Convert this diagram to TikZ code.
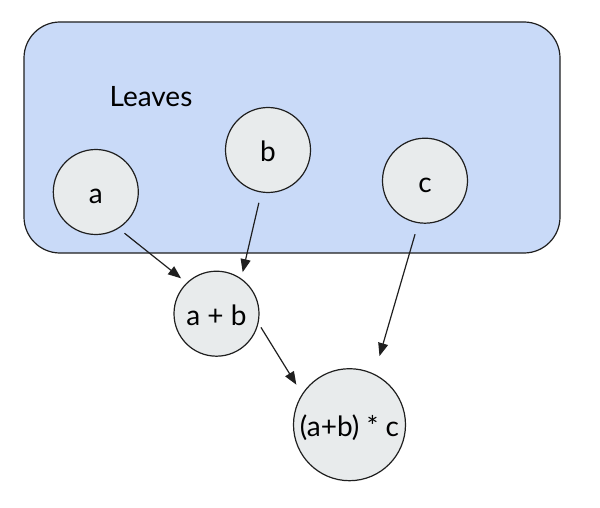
\documentclass[tikz,border=0pt]{standalone}
\usepackage{fontspec}
\setmainfont{Lato}
\usetikzlibrary{arrows.meta}
\definecolor{boxblue}{HTML}{C9DAF8}
\definecolor{nodegray}{HTML}{E8EBEC}
\definecolor{edgec}{HTML}{1F1F1F}
\tikzset{
  leaf/.style={circle, draw=edgec, line width=1.2pt, fill=nodegray, minimum size=85pt, inner sep=0pt, text height=24pt, text depth=0pt, font=\fontsize{28}{30}\selectfont},
  bignode/.style={leaf, minimum size=112pt},
  arr/.style={draw=edgec, line width=1.2pt, -{Triangle[length=13pt,width=10pt]}},
  group/.style={draw=edgec, line width=1.2pt, fill=boxblue, rounded corners=36pt}
}
\begin{document}
\begin{tikzpicture}[x=1pt,y=-1pt]
\useasboundingbox (0,0) rectangle (600,508);
\path[group] (24,22) rectangle (560,253);
\node[font=\fontsize{28}{30}\selectfont] (lbl) at (151,97) {Leaves};
\node[leaf] (a) at (95.8,192) {a};
\node[leaf] (b) at (268,150) {b};
\node[leaf] (c) at (425,180.7) {c};
\node[leaf] (ab) at (216.5,313.7) {a + b};
\node[bignode] (abc) at (349.5,424.7) {(a+b) * c};
\draw[arr, shorten <=7.5pt, shorten >=7pt] (a.-58.9) -- (ab.134.5);
\draw[arr, shorten <=10.5pt, shorten >=6.4pt] (b.-99.4) -- (ab.55.8);
\draw[arr, shorten <=4.7pt, shorten >=10.8pt] (ab.-13.9) -- (abc.147.5);
\draw[arr, shorten <=11.4pt, shorten >=18.5pt] (c.-99.9) -- (abc.64.3);
\end{tikzpicture}
\end{document}
